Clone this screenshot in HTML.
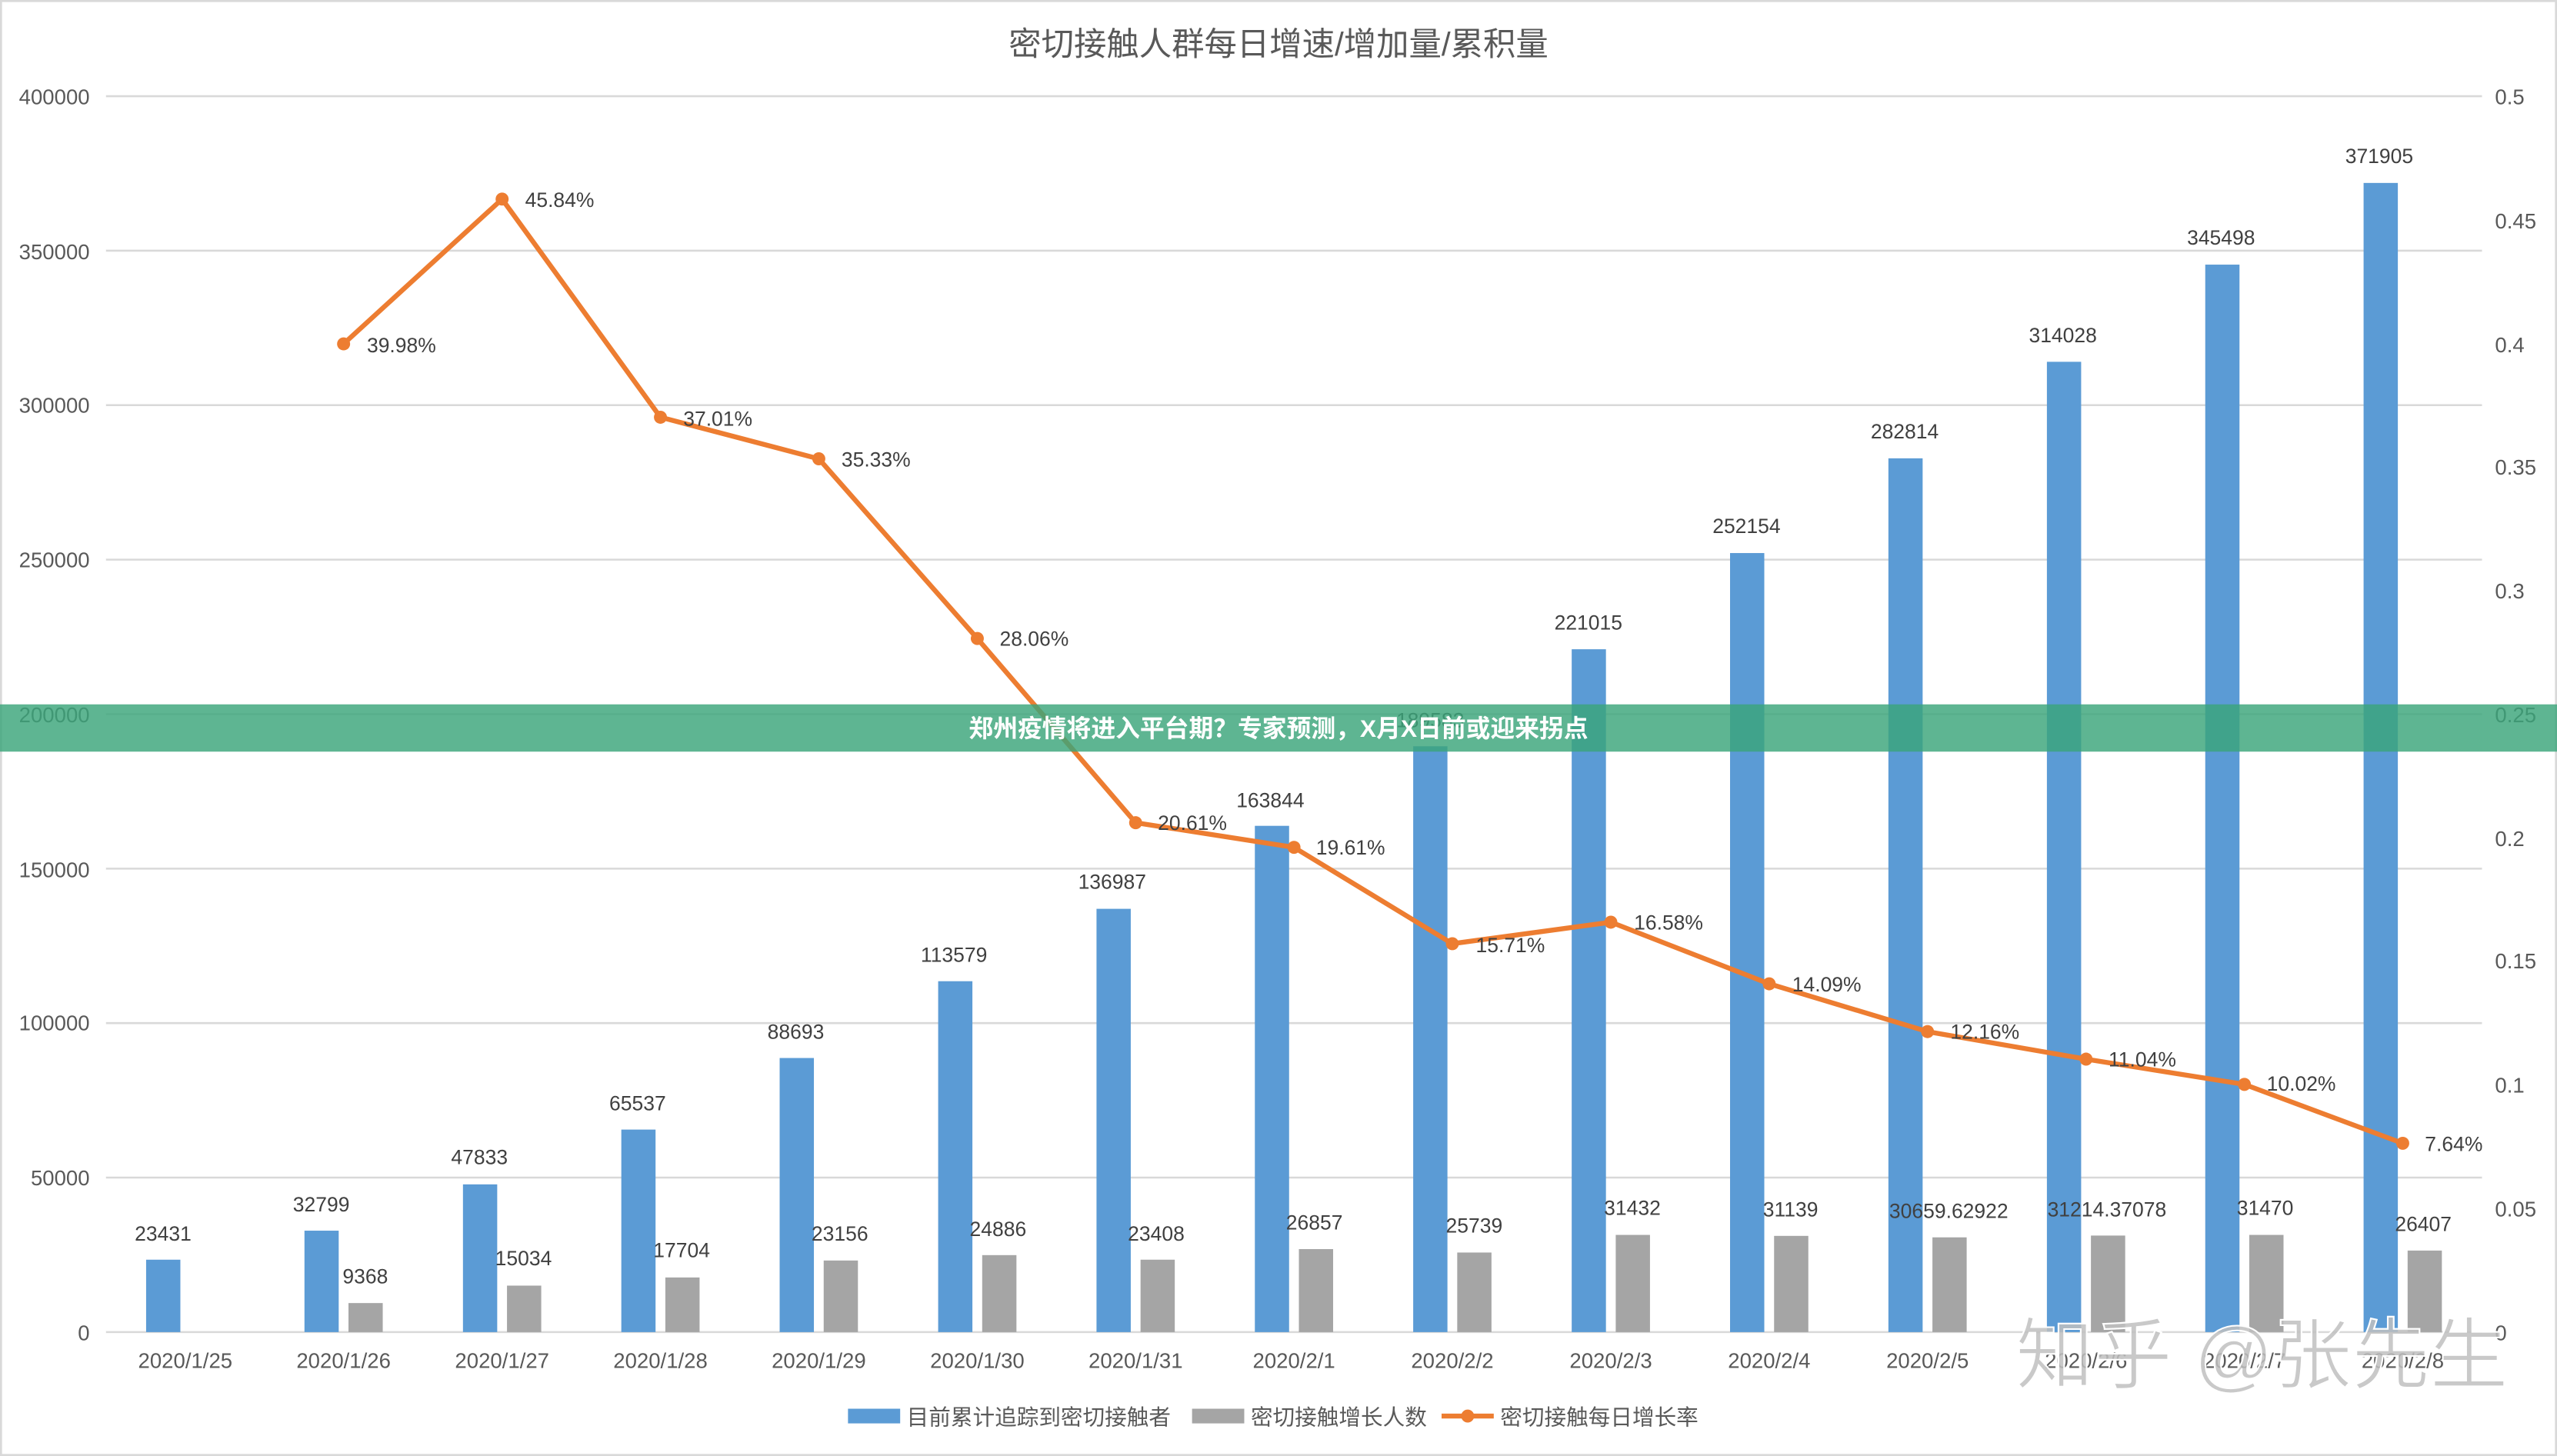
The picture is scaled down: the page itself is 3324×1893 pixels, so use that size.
<!DOCTYPE html>
<html><head><meta charset="utf-8"><style>
html,body{margin:0;padding:0;background:#fff;}
svg{display:block;}
text{font-family:"Liberation Sans","Noto Sans CJK SC",sans-serif;}
</style></head><body>
<svg width="3324" height="1893" viewBox="0 0 1568 893" preserveAspectRatio="none" xmlns="http://www.w3.org/2000/svg">
<rect x="0.5" y="0.5" width="1567" height="892" fill="#fff" stroke="#d9d9d9" stroke-width="1.5"/>
<text x="784" y="34" font-size="20" fill="#595959" text-anchor="middle">密切接触人群每日增速/增加量/累积量</text>
<g stroke="#d9d9d9" stroke-width="1.2">
<line x1="65" x2="1522" y1="59" y2="59"/><line x1="65" x2="1522" y1="153.75" y2="153.75"/>
<line x1="65" x2="1522" y1="248.5" y2="248.5"/><line x1="65" x2="1522" y1="343.25" y2="343.25"/>
<line x1="65" x2="1522" y1="438" y2="438"/><line x1="65" x2="1522" y1="532.75" y2="532.75"/>
<line x1="65" x2="1522" y1="627.5" y2="627.5"/><line x1="65" x2="1522" y1="722.25" y2="722.25"/>
<line x1="65" x2="1522" y1="817" y2="817"/>
</g>
<g font-size="13" fill="#595959" text-anchor="end">
<text x="55" y="64">400000</text><text x="55" y="159">350000</text><text x="55" y="253">300000</text>
<text x="55" y="348">250000</text><text x="55" y="443">200000</text><text x="55" y="538">150000</text>
<text x="55" y="632">100000</text><text x="55" y="727">50000</text><text x="55" y="822">0</text>
</g>
<g font-size="13" fill="#595959">
<text x="1530" y="64">0.5</text><text x="1530" y="140">0.45</text><text x="1530" y="216">0.4</text>
<text x="1530" y="291">0.35</text><text x="1530" y="367">0.3</text><text x="1530" y="443">0.25</text>
<text x="1530" y="519">0.2</text><text x="1530" y="594">0.15</text><text x="1530" y="670">0.1</text>
<text x="1530" y="746">0.05</text><text x="1530" y="822">0</text>
</g>
<g fill="#5b9bd5">
<rect x="89.6" y="772.6" width="21" height="44.4"/><rect x="186.7" y="754.8" width="21" height="62.2"/>
<rect x="283.9" y="726.4" width="21" height="90.6"/><rect x="381" y="692.8" width="21" height="124.2"/>
<rect x="478.1" y="648.9" width="21" height="168.1"/><rect x="575.3" y="601.8" width="21" height="215.2"/>
<rect x="672.4" y="557.4" width="21" height="259.6"/><rect x="769.5" y="506.5" width="21" height="310.5"/>
<rect x="866.6" y="457.7" width="21" height="359.3"/><rect x="963.8" y="398.2" width="21" height="418.8"/>
<rect x="1060.9" y="339.2" width="21" height="477.8"/><rect x="1158" y="281.1" width="21" height="535.9"/>
<rect x="1255.2" y="221.9" width="21" height="595.1"/><rect x="1352.3" y="162.3" width="21" height="654.7"/>
<rect x="1449.4" y="112.2" width="21" height="704.8"/>
</g>
<g fill="#a5a5a5">
<rect x="213.7" y="799.2" width="21" height="17.8"/><rect x="310.9" y="788.5" width="21" height="28.5"/>
<rect x="408" y="783.5" width="21" height="33.5"/><rect x="505.1" y="773.1" width="21" height="43.9"/>
<rect x="602.3" y="769.8" width="21" height="47.2"/><rect x="699.4" y="772.6" width="21" height="44.4"/>
<rect x="796.5" y="766.1" width="21" height="50.9"/><rect x="893.6" y="768.2" width="21" height="48.8"/>
<rect x="990.8" y="757.4" width="21" height="59.6"/><rect x="1087.9" y="758" width="21" height="59"/>
<rect x="1185" y="758.9" width="21" height="58.1"/><rect x="1282.2" y="757.8" width="21" height="59.2"/>
<rect x="1379.3" y="757.4" width="21" height="59.6"/><rect x="1476.4" y="767" width="21" height="50"/>
</g>
<g font-size="12.5" fill="#404040" text-anchor="middle">
<text x="100" y="761">23431</text><text x="197" y="743">32799</text><text x="294" y="714">47833</text>
<text x="391" y="681">65537</text><text x="488" y="637">88693</text><text x="585" y="590">113579</text>
<text x="682" y="545">136987</text><text x="779" y="495">163844</text><text x="877" y="446">189583</text>
<text x="974" y="386">221015</text><text x="1071" y="327">252154</text><text x="1168" y="269">282814</text>
<text x="1265" y="210">314028</text><text x="1362" y="150">345498</text><text x="1459" y="100">371905</text>
<text x="224" y="787">9368</text><text x="321" y="776">15034</text><text x="418" y="771">17704</text>
<text x="515" y="761">23156</text><text x="612" y="758">24886</text><text x="709" y="761">23408</text>
<text x="806" y="754">26857</text><text x="904" y="756">25739</text><text x="1001" y="745">31432</text>
<text x="1098" y="746">31139</text><text x="1195" y="747">30659.62922</text><text x="1292" y="746">31214.37078</text>
<text x="1389" y="745">31470</text><text x="1486" y="755">26407</text>
</g>
<polyline fill="none" stroke="#ed7d31" stroke-width="3" stroke-linejoin="round" points="210.7,210.9 307.9,122.1 405,255.9 502.1,281.4 599.3,391.6 696.4,504.6 793.5,519.7 890.6,578.8 987.8,565.6 1084.9,603.4 1182,632.7 1279.2,649.6 1376.3,665.1 1473.4,701.2"/>
<g fill="#ed7d31">
<circle cx="210.7" cy="210.9" r="4"/><circle cx="307.9" cy="122.1" r="4"/><circle cx="405" cy="255.9" r="4"/>
<circle cx="502.1" cy="281.4" r="4"/><circle cx="599.3" cy="391.6" r="4"/><circle cx="696.4" cy="504.6" r="4"/>
<circle cx="793.5" cy="519.7" r="4"/><circle cx="890.6" cy="578.8" r="4"/><circle cx="987.8" cy="565.6" r="4"/>
<circle cx="1084.9" cy="603.4" r="4"/><circle cx="1182" cy="632.7" r="4"/><circle cx="1279.2" cy="649.6" r="4"/>
<circle cx="1376.3" cy="665.1" r="4"/><circle cx="1473.4" cy="701.2" r="4"/>
</g>
<g font-size="12.5" fill="#404040">
<text x="225" y="216">39.98%</text><text x="322" y="127">45.84%</text><text x="419" y="261">37.01%</text>
<text x="516" y="286">35.33%</text><text x="613" y="396">28.06%</text><text x="710" y="509">20.61%</text>
<text x="807" y="524">19.61%</text><text x="905" y="584">15.71%</text><text x="1002" y="570">16.58%</text>
<text x="1099" y="608">14.09%</text><text x="1196" y="637">12.16%</text><text x="1293" y="654">11.04%</text>
<text x="1390" y="669">10.02%</text><text x="1487" y="706">7.64%</text>
</g>
<g font-size="13" fill="#595959" text-anchor="middle">
<text x="113.6" y="839">2020/1/25</text><text x="210.7" y="839">2020/1/26</text><text x="307.9" y="839">2020/1/27</text>
<text x="405" y="839">2020/1/28</text><text x="502.1" y="839">2020/1/29</text><text x="599.3" y="839">2020/1/30</text>
<text x="696.4" y="839">2020/1/31</text><text x="793.5" y="839">2020/2/1</text><text x="890.6" y="839">2020/2/2</text>
<text x="987.8" y="839">2020/2/3</text><text x="1084.9" y="839">2020/2/4</text><text x="1182" y="839">2020/2/5</text>
<text x="1279.2" y="839">2020/2/6</text><text x="1376.3" y="839">2020/2/7</text><text x="1473.4" y="839">2020/2/8</text>
</g>
<g font-size="13.5" fill="#595959">
<rect x="520" y="864" width="32" height="9" fill="#5b9bd5"/><text x="556" y="874">目前累计追踪到密切接触者</text>
<rect x="731" y="864" width="32" height="9" fill="#a5a5a5"/><text x="767" y="874">密切接触增长人数</text>
<line x1="884" x2="916" y1="868.5" y2="868.5" stroke="#ed7d31" stroke-width="3"/><circle cx="900" cy="868.5" r="4" fill="#ed7d31"/>
<text x="920" y="874">密切接触每日增长率</text>
</g>
<rect x="0" y="432" width="1568" height="29" fill="#3aa57a" fill-opacity="0.82"/>
<text x="784" y="452" font-size="15" font-weight="bold" fill="#fff" text-anchor="middle">郑州疫情将进入平台期？专家预测，X月X日前或迎来拐点</text>
<text x="1236" y="848" font-size="48" fill="#bfbfbf" fill-opacity="0.85" stroke="#fff" stroke-width="1">知乎 @张先生</text>
</svg>
</body></html>
